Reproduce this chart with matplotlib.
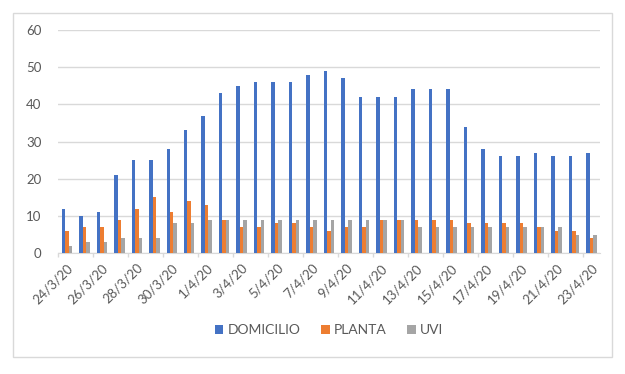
import numpy as np
import matplotlib.pyplot as plt
from matplotlib.patches import Rectangle

# data
fechas = ["24/3/20", "25/3/20", "26/3/20", "27/3/20", "28/3/20", "29/3/20", "30/3/20",
          "31/3/20", "1/4/20", "2/4/20", "3/4/20", "4/4/20", "5/4/20", "6/4/20",
          "7/4/20", "8/4/20", "9/4/20", "10/4/20", "11/4/20", "12/4/20", "13/4/20",
          "14/4/20", "15/4/20", "16/4/20", "17/4/20", "18/4/20", "19/4/20", "20/4/20",
          "21/4/20", "22/4/20", "23/4/20"]
domicilio = [12, 10, 11, 21, 25, 25, 28, 33, 37, 43, 45, 46, 46, 46, 48, 49,
             47, 42, 42, 42, 44, 44, 44, 34, 28, 26, 26, 27, 26, 26, 27]
planta = [6, 7, 7, 9, 12, 15, 11, 14, 13, 9, 7, 7, 8, 8, 7, 6,
          7, 7, 9, 9, 9, 9, 9, 8, 8, 8, 8, 7, 6, 6, 4]
uvi = [2, 3, 3, 4, 4, 4, 8, 8, 9, 9, 9, 9, 9, 9, 9, 9,
       9, 9, 9, 9, 7, 7, 7, 7, 7, 7, 7, 7, 7, 5, 5]

series = [("DOMICILIO", domicilio, "#4472C4"),
          ("PLANTA", planta, "#ED7D31"),
          ("UVI", uvi, "#A5A5A5")]

plt.rcParams['font.family'] = ['Lato', 'DejaVu Sans']
txt = "#595959"

fig = plt.figure(figsize=(6.25, 3.74), dpi=100)
ax = fig.add_axes([0.093, 0.323, 0.867, 0.597])

x = np.arange(len(fechas))
w = 0.2
for i, (nombre, vals, col) in enumerate(series):
    ax.bar(x + (i - 1) * w, vals, width=w, color=col, label=nombre, zorder=3)

ax.set_xlim(-0.5, len(fechas) - 0.5)
ax.set_ylim(0, 60)
ax.set_yticks(range(0, 61, 10))
ax.yaxis.grid(True, color="#D9D9D9", linewidth=1, zorder=0)
ax.tick_params(axis="y", length=0, labelsize=9.5, labelcolor=txt, pad=12)

# labels every other day, ticks on category borders
ax.set_xticks(x[::2])
ax.set_xticklabels(fechas[::2], rotation=45, ha="right", rotation_mode="anchor",
                   fontsize=9.5, color=txt)
ax.tick_params(axis="x", length=0, pad=6)
ax.set_xticks(np.arange(-0.5, len(fechas), 2), minor=True)
ax.tick_params(axis="x", which="minor", length=3, color="#D9D9D9", width=1)

for s in ["top", "right", "left"]:
    ax.spines[s].set_visible(False)
ax.spines["bottom"].set_color("#D9D9D9")

ax.legend(loc="center", bbox_to_anchor=(0.5, -0.345), ncol=3, frameon=False,
          fontsize=10, labelcolor=txt, handlelength=0.6, handleheight=0.6,
          handletextpad=0.3, columnspacing=1.5)

# chart border
fig.patches.append(Rectangle((13 / 625, 1 - 357 / 374), 599 / 625, 344 / 374,
                             transform=fig.transFigure, fill=False,
                             edgecolor="#D9D9D9", linewidth=1))

fig.savefig("out.png", dpi=100)
